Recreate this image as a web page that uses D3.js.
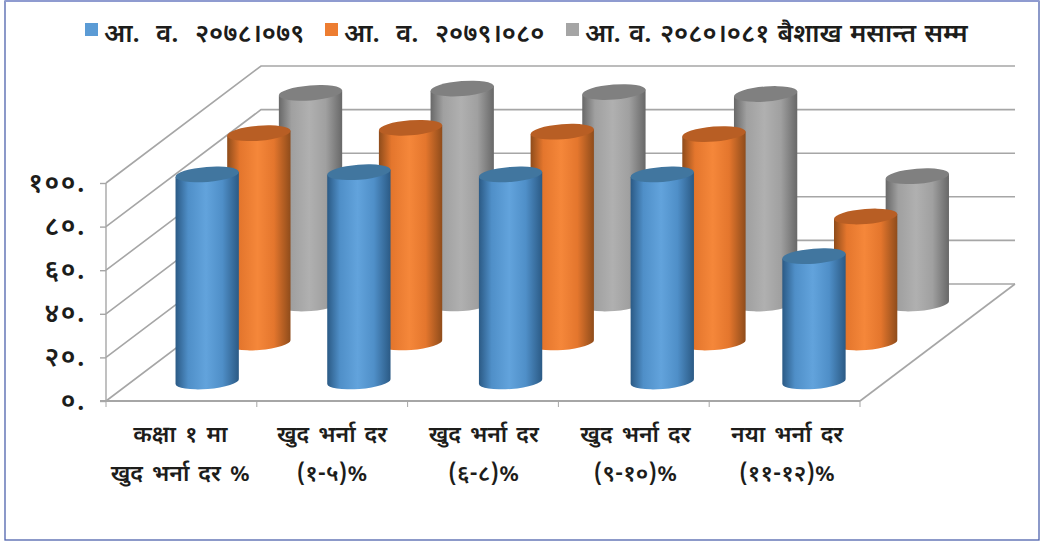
<!DOCTYPE html>
<html><head><meta charset="utf-8">
<script src="https://cdn.jsdelivr.net/npm/d3@7/dist/d3.min.js"></script>
<style>html,body{margin:0;padding:0;background:#fff;overflow:hidden}svg{display:block}
text{font-family:"Noto Sans Devanagari","Noto Sans","Lohit Devanagari","FreeSans","DejaVu Sans",sans-serif;fill:#1d1d1b;font-weight:600}</style>
</head><body><svg id="c" width="1046" height="543"></svg>
<script>
const categories = ["c1","c2","c3","c4","c5"];
const categoryLines = [["कक्षा १ मा","खुद भर्ना दर %"],["खुद भर्ना दर","(१-५)%"],["खुद भर्ना दर","(६-८)%"],["खुद भर्ना दर","(९-१०)%"],["नया भर्ना दर","(११-१२)%"]];
const seriesNames = ["आ. व. २०७८।०७९","आ. व. २०७९।०८०","आ. व. २०८०।०८१ बैशाख मसान्त सम्म"];
const values0 = [95, 96, 95, 95, 57.5];
const values1 = [96, 98.5, 96.7, 95.6, 57.8];
const values2 = [96.6, 98.6, 97, 96.1, 58.4];
const tickValues = [0,20,40,60,80,100];
const tickLabels = ["०.","२०.","४०.","६०.","८०.","१००."];
const edgeColors = ["#2b5a85","#8f4c1b","#686868"];
const midColors = ["#4f8fc8","#e4762d","#a0a0a0"];
const lightColors = ["#62a3dc","#f5873a","#b0b0b0"];
const topColors = ["#41769f","#b85e24","#808080"];
const legendColors = ["#5b9bd5","#ed7d31","#a5a5a5"];
const allValues = [values0, values1, values2];

const svg = d3.select("#c");
const x = d3.scaleBand().domain(categories).range([106,860]);
const xBars = d3.scaleBand().domain(categories).range([105.5,864]);
const y = d3.scaleLinear().domain([0,100]).range([401,183]);
const depth = d3.scaleBand().domain([0,1,2]).range([0,1]);
const depthX = 155, depthY = -117;
const barW = 63.5, rx = barW/2, ry = 7.5, tilt = 4.5*Math.PI/180;

svg.append("rect").attr("x",5).attr("y",1).attr("width",1034).attr("height",539)
  .attr("fill","#fff").attr("stroke","#4f63ad").attr("stroke-width",1.3);
svg.append("line").attr("x1",5).attr("x2",1039).attr("y1",1).attr("y2",1).attr("stroke","#8f9bd0").attr("stroke-width",2);

const grid = "#a6a6a6";
const g = svg.append("g").attr("fill","none").attr("stroke",grid).attr("stroke-width",1.6);
g.selectAll("path.w").data(tickValues).join("path").attr("class","w")
 .attr("d",v=>`M106,${y(v)}L${106+depthX},${y(v)+depthY}H${860+depthX}`);
g.append("path").attr("d",`M860,401L${860+depthX},${401+depthY}`);

const yAxis = d3.axisLeft(y).tickValues(tickValues).tickFormat((d,i)=>tickLabels[i]).tickSize(6).tickPadding(14);
const ya = svg.append("g").attr("transform","translate(106,0)").call(yAxis);
ya.selectAll("line,path").attr("stroke",grid).attr("stroke-width",1.4);
ya.select(".domain").attr("d","M0,183V401");
ya.selectAll("text").attr("font-size",27).attr("dy","0.3em").style("letter-spacing","1.5px");
const fl = svg.append("g");
fl.append("line").attr("x1",100).attr("x2",860).attr("y1",401).attr("y2",401).attr("stroke",grid).attr("stroke-width",1.8);
fl.selectAll("line.t").data([...categories.map(c=>x(c)),x.range()[1]]).join("line").attr("class","t")
  .attr("x1",d=>d).attr("x2",d=>d).attr("y1",401).attr("y2",407).attr("stroke",grid).attr("stroke-width",1);

const defs = svg.append("defs");
seriesNames.forEach((_,i)=>{
  const lg = defs.append("linearGradient").attr("id","g"+i);
  [[0,edgeColors[i]],[.2,midColors[i]],[.48,lightColors[i]],[.74,midColors[i]],[1,edgeColors[i]]]
   .forEach(s=>lg.append("stop").attr("offset",s[0]).attr("stop-color",s[1]));
});

const dx = rx*Math.cos(tilt), dy = rx*Math.sin(tilt), rot = -4.5;
[2,1,0].forEach(si=>{
  const sg = svg.append("g");
  const bars = sg.selectAll("g").data(categories.map((c,i)=>({c,v:allValues[si][i]}))).join("g");
  const cx = d=>xBars(d.c)+xBars.bandwidth()/2+depthX*(depth(si)+depth.bandwidth()/2);
  const base = depthY*(depth(si)+depth.bandwidth()/2);
  bars.append("path").attr("fill",`url(#g${si})`)
    .attr("d",d=>{const c=cx(d),b=y(0)+base,t=y(d.v)+base;
      return `M${c-dx},${t+dy}L${c-dx},${b+dy}A${rx},${ry} ${rot} 0 0 ${c+dx},${b-dy}L${c+dx},${t-dy}Z`;});
  bars.append("ellipse").attr("rx",rx).attr("ry",ry).attr("fill",topColors[si])
    .attr("transform",d=>`translate(${cx(d)},${y(d.v)+base}) rotate(${rot})`);
});

const xl = svg.append("g").attr("text-anchor","middle").attr("font-size",23).style("word-spacing","3px");
categories.forEach((c,i)=>{
  categoryLines[i].forEach((t,j)=>{
    xl.append("text").attr("x",xBars(c)+xBars.bandwidth()/2-1).attr("y",442+j*38.5).text(t);
  });
});

const legendX = [85,325,566], textX = [104,344,585], wordGaps = [9.5,9.5,1.5];
seriesNames.forEach((n,i)=>{
  svg.append("rect").attr("x",legendX[i]).attr("y",23).attr("width",13).attr("height",13).attr("fill",legendColors[i]);
  svg.append("text").attr("x",textX[i]).attr("y",41.5).attr("font-size",26).style("word-spacing",wordGaps[i]+"px").text(n);
});
</script></body></html>
